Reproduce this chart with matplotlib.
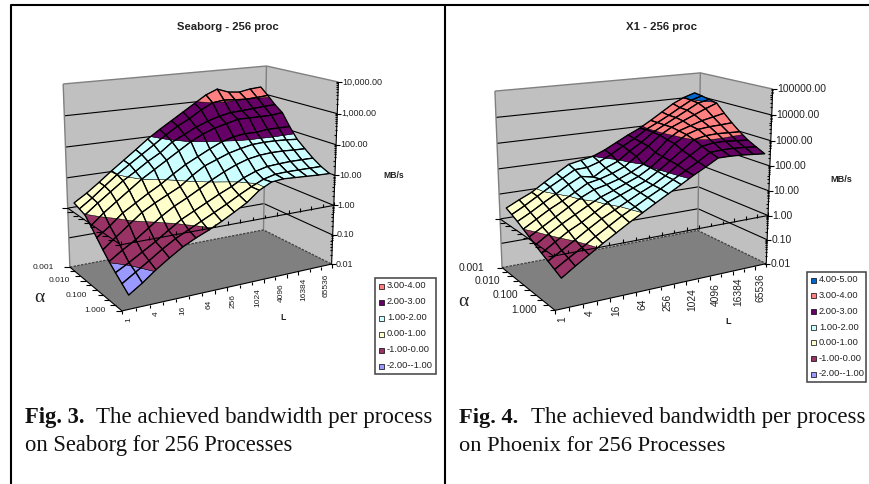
import numpy as np
import matplotlib
matplotlib.use("Agg")
import matplotlib.pyplot as plt
from matplotlib.collections import PolyCollection, LineCollection
from matplotlib.patches import Rectangle

L_LABELS = ["1", "", "4", "", "16", "", "64", "", "256", "", "1024", "", "4096", "", "16384", "", "65536"]
ALPHA_LABELS = ["0.001", "", "", "0.010", "", "", "0.100", "", "", "1.000"]

SEABORG_LOG = [
    [.14, .4, .7, 1.02, 1.32, 1.62, 1.93, 2.2, 2.45, 2.7, 2.95, 3.2, 3.36, 3.22, 3.18, 3.25, 3.28],
    [.06, .35, .68, 1.0, 1.28, 1.55, 1.82, 2.1, 2.35, 2.55, 2.8, 3.0, 3.05, 3.02, 3.0, 3.02, 3.05],
    [-.02, .3, .6, .9, 1.15, 1.42, 1.65, 1.95, 2.15, 2.35, 2.5, 2.62, 2.7, 2.72, 2.75, 2.78, 2.8],
    [-.25, .1, .4, .7, 1.0, 1.25, 1.5, 1.75, 2.0, 2.2, 2.35, 2.45, 2.55, 2.55, 2.55, 2.55, 2.6],
    [-.5, -.2, .15, .4, .65, .88, 1.15, 1.4, 1.6, 1.8, 1.98, 2.1, 2.15, 2.15, 2.2, 2.2, 2.2],
    [-.75, -.42, -.1, .22, .45, .65, .85, 1.15, 1.4, 1.55, 1.7, 1.8, 1.88, 1.9, 1.9, 1.88, 1.85],
    [-.98, -.7, -.45, -.15, .15, .4, .6, .82, 1.05, 1.25, 1.42, 1.55, 1.62, 1.65, 1.65, 1.63, 1.62],
    [-1.18, -.95, -.7, -.45, -.17, .1, .3, .5, .7, .88, 1.1, 1.25, 1.35, 1.38, 1.4, 1.4, 1.4],
    [-1.37, -1.1, -.83, -.55, -.3, -.1, .1, .3, .5, .72, .92, 1.1, 1.2, 1.22, 1.22, 1.22, 1.22],
    [-1.56, -1.28, -.96, -.68, -.42, -.22, -.05, .15, .37, .6, .92, 1.12, 1.16, 1.14, 1.12, 1.1, 1.09],
]
X1_LOG = [
    [.4, .65, .88, 1.2, 1.5, 1.8, 1.9, 2.0, 2.2, 2.45, 2.7, 2.92, 3.2, 3.5, 3.8, 4.02, 4.17],
    [.28, .55, .85, 1.15, 1.42, 1.7, 1.72, 1.88, 2.12, 2.4, 2.65, 2.97, 3.2, 3.45, 3.72, 3.98, 4.12],
    [.15, .42, .72, 1.0, 1.3, 1.55, 1.45, 1.75, 1.95, 2.3, 2.6, 2.95, 3.2, 3.45, 3.7, 3.95, 4.05],
    [0, .3, .6, .85, 1.12, 1.4, 1.5, 1.65, 1.85, 2.2, 2.55, 2.93, 3.2, 3.4, 3.6, 3.8, 3.98],
    [-.15, .15, .45, .75, 1.05, 1.28, 1.4, 1.55, 1.75, 2.0, 2.4, 2.85, 3.15, 3.3, 3.45, 3.55, 3.65],
    [-.3, .03, .33, .6, .87, 1.12, 1.3, 1.5, 1.7, 1.98, 2.35, 2.8, 3.1, 3.25, 3.3, 3.32, 3.35],
    [-.45, -.12, .2, .45, .75, 1.05, 1.25, 1.45, 1.65, 1.95, 2.3, 2.65, 3.0, 3.1, 3.12, 3.1, 3.08],
    [-.58, -.28, .03, .35, .65, .9, 1.15, 1.4, 1.62, 1.9, 2.25, 2.55, 2.85, 2.92, 2.92, 2.88, 2.85],
    [-.72, -.4, -.1, .22, .52, .82, 1.08, 1.35, 1.6, 1.88, 2.15, 2.42, 2.72, 2.75, 2.75, 2.72, 2.68],
    [-.86, -.52, -.2, .12, .42, .72, 1.0, 1.28, 1.55, 1.82, 2.1, 2.35, 2.62, 2.62, 2.6, 2.56, 2.52],
]

SEABORG_Z_LABELS = ["0.01", "0.10", "1.00", "10.00", "100.00", "1,000.00", "10,000.00"]
X1_Z_LABELS = ["0.01", "0.10", "1.00", "10.00", "100.00", "1000.00", "10000.00", "100000.00"]
BAND_COLORS = {-2: "#9999FF", -1: "#993366", 0: "#FFFFCC", 1: "#CCFFFF",
               2: "#660066", 3: "#FF8080", 4: "#0066CC"}
SEABORG_BANDS = [3, 2, 1, 0, -1, -2]
X1_BANDS = [4, 3, 2, 1, 0, -1, -2]


def band_label(k):
    return f"{k:.2f}-{k + 1:.2f}"


def fit_projection(anchors):
    rows = []
    for (u, v, w), (x, y) in anchors:
        p = [u, v, w, 1.0]
        rows.append(p + [0, 0, 0, 0] + [-x * c for c in p])
        rows.append([0, 0, 0, 0] + p + [-y * c for c in p])
    _, _, vt = np.linalg.svd(np.array(rows))
    return vt[-1].reshape(3, 4)


def clip_z(poly, lo, hi):
    def clip(points, inside, level):
        out = []
        for a, b in zip(points, points[1:] + points[:1]):
            ia, ib = inside(a[2]), inside(b[2])
            if ia:
                out.append(a)
            if ia != ib:
                t = (level - a[2]) / (b[2] - a[2])
                out.append(tuple(a[n] + t * (b[n] - a[n]) for n in range(3)))
        return out
    res = clip(poly, lambda z: z >= lo, lo)
    if res:
        res = clip(res, lambda z: z <= hi, hi)
    return res


def panel(ax, data, z_labels, bands, layout):
    zs = np.array(data, dtype=float)
    zmin, zmax = -2, -2 + len(z_labels) - 1
    nu, nv = 17, 9
    P = fit_projection([
        ((0, 0, zmin), layout["bl"]), ((nu, 0, zmin), layout["bb"]),
        ((0, nv, zmin), layout["fl"]), ((nu, nv, zmin), layout["fr"]),
        ((0, 0, zmax), layout["tl"]), ((nu, 0, zmax), layout["tb"]),
        ((nu, nv, zmax), layout["tr"]),
    ])

    def pr(u, v, w):
        h = P @ np.array([u, v, w, 1.0])
        return np.array([h[0] / h[2], h[1] / h[2]])

    lw = 0.8
    # walls and floor
    ax.add_patch(plt.Polygon([pr(0, 0, zmin), pr(nu, 0, zmin), pr(nu, 0, zmax), pr(0, 0, zmax)],
                             fc="#C0C0C0", ec="none", zorder=1))
    ax.add_patch(plt.Polygon([pr(nu, 0, zmin), pr(nu, nv, zmin), pr(nu, nv, zmax), pr(nu, 0, zmax)],
                             fc="#C0C0C0", ec="none", zorder=1))
    ax.add_patch(plt.Polygon([pr(0, 0, zmin), pr(nu, 0, zmin), pr(nu, nv, zmin), pr(0, nv, zmin)],
                             fc="#808080", ec="none", zorder=1))
    # gridlines on walls
    grid = []
    for w in range(zmin + 1, zmax):
        grid.append([pr(0, 0, w), pr(nu, 0, w), pr(nu, nv, w)])
    ax.add_collection(LineCollection(grid, colors="black", linewidths=lw, zorder=2))
    ax.add_collection(LineCollection(
        [[pr(0, 0, zmax), pr(nu, 0, zmax), pr(nu, nv, zmax)],
         [pr(nu, 0, zmin), pr(nu, 0, zmax)],
         [pr(0, 0, zmin), pr(0, 0, zmax)]],
        colors="#808080", linewidths=1.0, zorder=2))
    ax.add_collection(LineCollection(
        [[pr(0, 0, zmin), pr(nu, 0, zmin), pr(nu, nv, zmin)]],
        colors="#404040", linewidths=0.9, linestyles=(0, (2, 1)), zorder=2))

    # surface, far cells first
    polys, faces, widths = [], [], []
    nrow, ncol = zs.shape
    for i in range(ncol - 2, -1, -1):
        for j in range(nrow - 1):
            us = [i + .5, i + 1.5, i + 1.5, i + .5]
            vs = [j, j, j + 1, j + 1]
            cell = [(us[n], vs[n], zs[vs[n], int(us[n])]) for n in range(4)]
            for k in sorted(BAND_COLORS):
                part = clip_z(cell, k, k + 1)
                if len(part) >= 3:
                    polys.append([pr(*q) for q in part])
                    faces.append(BAND_COLORS[k])
                    widths.append(0.35)
            polys.append([pr(*q) for q in cell])
            faces.append("none")
            widths.append(0.95)
    ax.add_collection(PolyCollection(polys, facecolors=faces, edgecolors="black",
                                     linewidths=widths, zorder=3))

    # axis lines at z=0 and on the floor
    segs = [[pr(0, nv, 0), pr(nu, nv, 0)], [pr(0, 0, 0), pr(0, nv, 0)],
            [pr(0, nv, zmin), pr(nu, nv, zmin)], [pr(0, 0, zmin), pr(0, nv, zmin)]]
    for n in range(nu + 1):
        a = pr(n, nv, 0)
        segs.append([a, a + (0, -layout["tick"])])
        b = pr(n, nv, zmin)
        segs.append([b, b + (0, layout["tick"])])
    for n in range(nv + 1):
        a = pr(0, n, 0)
        segs.append([a, a + (-layout["tick"] - 2, 0)])
        b = pr(0, n, zmin)
        segs.append([b, b + (-layout["tick"] - 2, 0)])
    # value axis
    segs.append([pr(nu, nv, zmin), pr(nu, nv, zmax)])
    for w in range(zmin, zmax + 1):
        a = pr(nu, nv, w)
        segs.append([a + (-2, 0), a + (4, 0)])
        if w < zmax:
            for m in range(2, 10):
                c = pr(nu, nv, w + np.log10(m))
                segs.append([c + (-2, 0), c])
    ax.add_collection(LineCollection(segs, colors="black", linewidths=lw, zorder=4))

    font = "Liberation Sans"
    for n, lab in enumerate(z_labels):
        p = pr(nu, nv, zmin + n)
        ax.text(p[0] + layout["zpad"], p[1], lab, fontsize=layout["z_fs"], family=font,
                ha="left", va="center", color="#222222", zorder=5)
    for n, lab in enumerate(ALPHA_LABELS):
        if lab:
            p = pr(0, n, zmin)
            ax.text(p[0] - layout["apad"], p[1], lab, fontsize=layout["cat_fs"], family=font,
                    ha="right", va="center", color="#222222", zorder=5)
    for n, lab in enumerate(L_LABELS):
        if lab:
            p = pr(n + .5, nv, zmin)
            ax.text(p[0], p[1] + layout["lpad"], lab, fontsize=layout["cat_fs"], family=font, rotation=90,
                    ha="center", va="top", color="#222222", zorder=5)
    ax.text(*layout["title"], layout["title_text"], fontsize=layout["title_fs"], family=font,
            weight="bold", ha="center", va="center", color="#222222", zorder=5)
    ax.text(*layout["mbs"], "MB/s", fontsize=layout["lab_fs"], family=font, weight="bold",
            ha="center", va="center", color="#222222", zorder=5)
    ax.text(*layout["L"], "L", fontsize=layout["lab_fs"], family=font, weight="bold",
            ha="center", va="center", color="#222222", zorder=5)
    ax.text(*layout["alpha"], "α", fontsize=14, family="Liberation Serif",
            ha="center", va="center", color="#222222", zorder=5)

    # legend
    x0, y0, x1, y1 = layout["legend"]
    ax.add_patch(Rectangle((x0, y0), x1 - x0, y1 - y0, fc="white", ec="#404040", lw=1.1, zorder=5))
    step = (y1 - y0 - 2 * layout["leg_m"]) / (len(bands) - 1)
    for n, k in enumerate(bands):
        y = y0 + layout["leg_m"] + n * step
        ax.add_patch(Rectangle((x0 + 4, y - 2.5), 5, 5, fc=BAND_COLORS[k], ec="black", lw=0.5, zorder=6))
        ax.text(x0 + 12, y, band_label(k), fontsize=6.7, family=font, ha="left", va="center",
                color="#222222", zorder=6)

    # caption
    serif = "Liberation Serif"
    cap = layout["caption"]
    ax.text(cap["x"], 423, cap["bold"], fontsize=cap["fs"], family=serif, weight="bold",
            ha="left", va="baseline", color="#111111", zorder=5)
    ax.text(cap["x2"], 423, cap["line1"], fontsize=cap["fs1"], family=serif,
            ha="left", va="baseline", color="#111111", zorder=5)
    ax.text(cap["x"], 451, cap["line2"], fontsize=cap["fs"], family=serif,
            ha="left", va="baseline", color="#111111", zorder=5)


fig = plt.figure(figsize=(8.7, 4.84), dpi=100)
ax = fig.add_axes([0, 0, 1, 1])
ax.set_xlim(0, 870)
ax.set_ylim(484, 0)
ax.axis("off")

panel(ax, SEABORG_LOG, SEABORG_Z_LABELS, SEABORG_BANDS, dict(
    bl=(70, 267), bb=(263, 230), fl=(122, 311), fr=(332, 264),
    tl=(63, 84), tb=(267, 66), tr=(338, 82),
    tick=3.5, z_fs=6.5, cat_fs=6.0, zpad=4, apad=16, lpad=8,
    title=(227.5, 27), title_text="Seaborg - 256 proc", title_fs=8.1,
    mbs=(394, 175), L=(283, 317), lab_fs=6.2, alpha=(39.5, 297),
    legend=(375, 278, 436, 374), leg_m=8,
    caption=dict(x=25, x2=96, fs=16.3, fs1=16.55, bold="Fig. 3.",
                 line1="The achieved bandwidth per process",
                 line2="on Seaborg for 256 Processes"),
))
panel(ax, X1_LOG, X1_Z_LABELS, X1_BANDS, dict(
    bl=(502, 268), bb=(698, 230), fl=(555, 310), fr=(766, 264),
    tl=(495, 91), tb=(700, 73), tr=(773, 89),
    tick=3.5, z_fs=7.5, cat_fs=7.4, zpad=4, apad=18, lpad=8,
    title=(662, 27), title_text="X1 - 256 proc", title_fs=8.2,
    mbs=(841.5, 180), L=(728, 322), lab_fs=6.6, alpha=(463, 302),
    legend=(807, 272, 866, 382), leg_m=8,
    caption=dict(x=459, x2=531, fs=16.2, fs1=16.5, bold="Fig. 4.",
                 line1="The achieved bandwidth per process",
                 line2="on Phoenix for 256 Processes"),
))

# table frame
ax.add_collection(LineCollection(
    [[(11, 484), (11, 5), (870, 5)], [(445, 5), (445, 484)]],
    colors="black", linewidths=1.5, zorder=7, capstyle="butt"))

fig.savefig("out.png", dpi=100, facecolor="white")
